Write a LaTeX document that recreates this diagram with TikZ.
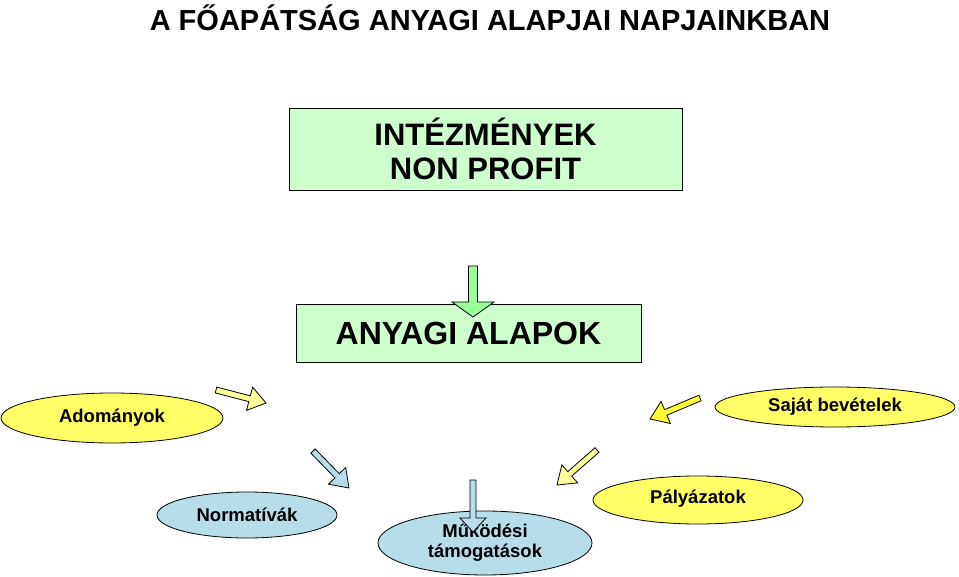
\documentclass[tikz,border=0pt]{standalone}
\usepackage{fontspec}
\setmainfont{Liberation Sans}
\usetikzlibrary{shapes.geometric}
\definecolor{boxg}{HTML}{CCFFCC}
\definecolor{arrg}{HTML}{99FF99}
\definecolor{ely}{HTML}{FFFF66}
\definecolor{arry}{HTML}{FFFF99}
\definecolor{arryb}{HTML}{FFFF33}
\definecolor{elb}{HTML}{B7DDE8}
\newcommand\barrow[7]{% tail, angle, length, color, shaft half, head half, head length
  \begin{scope}[shift={(#1)},rotate=#2]
  \draw[line width=0.8pt,fill=#4] (0,#5) -- (#3-#7,#5) -- (#3-#7,#6) -- (#3,0) -- (#3-#7,-#6) -- (#3-#7,-#5) -- (0,-#5) -- cycle;
  \end{scope}}
\begin{document}
\begin{tikzpicture}[x=1pt,y=-1pt,
  bx/.style={draw=black,line width=0.9pt,fill=boxg,inner sep=0pt},
  el/.style={ellipse,draw=black,line width=0.8pt,inner sep=0pt,font=\fontsize{18.5}{20}\selectfont\bfseries,align=center}]
\useasboundingbox (0,0) rectangle (959,577);
\node[font=\fontsize{29}{32}\selectfont\bfseries] (title) at (490,18) {A FŐAPÁTSÁG ANYAGI ALAPJAI NAPJAINKBAN};
\node[bx,minimum width=393pt,minimum height=82pt,align=center,font=\fontsize{31}{34}\selectfont\bfseries] (inst) at (485.5,149) {INTÉZMÉNYEK\\NON PROFIT};
\node[bx,minimum width=345pt,minimum height=58pt,font=\fontsize{32}{34}\selectfont\bfseries] (alap) at (468.5,333) {ANYAGI ALAPOK};
\node[el,fill=ely,minimum width=222pt,minimum height=50pt] (ad) at (112,418) {Adományok};
\node[el,fill=ely,minimum width=240pt,minimum height=40pt] (sb) at (835,407) {Saját bevételek};
\node[el,fill=elb,minimum width=180pt,minimum height=46pt] (nm) at (247,515) {Normatívák};
\node[el,fill=elb,minimum width=214pt,minimum height=64pt] (mt) at (485,543) {Működési\\támogatások};
\node[el,fill=ely,minimum width=210pt,minimum height=48pt,anchor=center] (pz) at (698,500) {\raisebox{6pt}{Pályázatok}};
\coordinate (g1) at (473,266);
\coordinate (a1) at (216,390);
\coordinate (b1) at (313,451);
\coordinate (c1) at (473,480);
\coordinate (d1) at (597,450);
\coordinate (e1) at (700,398);
\barrow{g1}{-90}{51}{arrg}{4.5}{21}{15}
\barrow{a1}{-14.6}{51.7}{arry}{3}{12}{17}
\barrow{b1}{-45.8}{51.6}{elb}{3}{12}{17}
\barrow{c1}{-90}{52}{elb}{3}{13}{14}
\barrow{d1}{-138.8}{53.2}{arry}{3}{12}{17}
\barrow{e1}{-157.2}{54.2}{arryb}{3}{12}{17}
\end{tikzpicture}
\end{document}
